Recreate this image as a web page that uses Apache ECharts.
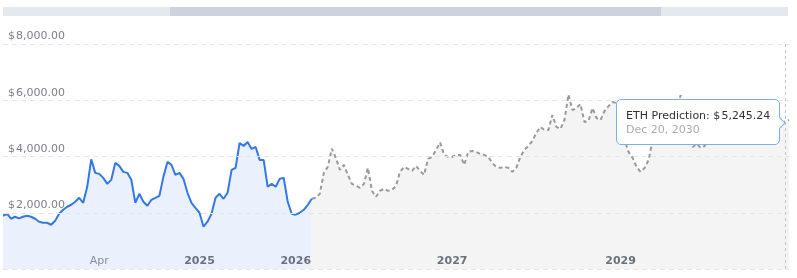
<!DOCTYPE html>
<html><head><meta charset="utf-8">
<script src="https://cdn.jsdelivr.net/npm/echarts@6/dist/echarts.min.js"></script>
<style>html,body{margin:0;padding:0;background:#fff}#c{width:797px;height:278px}</style>
</head><body><div id="c"></div>
<script>
// Category dates: anchor date -> category index (dates between anchors are evenly spread)
const dateAnchors = [
  ['2023-09-24', 0], ['2024-04-01', 24], ['2025-01-01', 49], ['2026-01-01', 73],
  ['2027-01-01', 112], ['2029-01-01', 154], ['2030-12-20', 195], ['2030-12-31', 196]
];
const tickDates = ['2024-04-01', '2025-01-01', '2026-01-01', '2027-01-01', '2029-01-01'];
const tickLabels = ['Apr', '2025', '2026', '2027', '2029'];
const yTicks = [0, 2000, 4000, 6000, 8000];

// ETH price history (USD)
const historyValues = [
  1894,1965,1787,1858,1800,1858,1890,1858,1787,1681,
  1645,1645,1574,1716,1965,2106,2213,2284,2390,2532,
  2355,2922,3900,3418,3383,3241,3028,3170,3773,3667,
  3454,3418,3170,2355,2674,2390,2248,2461,2532,2603,
  3277,3808,3702,3347,3418,3206,2709,2355,2177,2000,
  1504,1681,1965,2532,2674,2496,2709,3525,3596,4482,
  4376,4518,4270,4340,3879,3879,2922,3028,2922,3206,
  3241,2390,1965,1930,2000,2106,2284,2496
];
// ETH prediction (USD), starts at the last history point
const predictionValues = [
  2496,2532,2674,3418,3631,4280,3950,3525,3702,3347,
  3028,2957,2887,3028,3596,2780,2567,2780,2851,2780,
  2816,2957,3454,3631,3560,3490,3667,3490,3347,3915,
  3986,4234,4500,4057,3986,3986,4057,4057,3702,4163,
  4198,4163,4092,4057,3986,3773,3631,3596,3631,3596,
  3454,3596,3986,4234,4376,4553,4837,5050,4943,4943,
  5475,5050,4979,5298,6200,5652,5723,5865,5227,5262,
  5723,5369,5298,5617,5794,5936,5900,5865,4589,4163,
  3950,3631,3454,3596,3879,4589,5014,5440,5298,5511,
  5652,5723,6184,5369,4518,4340,4447,4305,4376,4660,
  4872,5014,5121,5298,5581,5652,5511,5369,5227,5085,
  5333,5440,5262,5121,5227,5369,5227,5121,5245.24,5300
];

const DAY = 86400000;
function iso(t){ const d = new Date(Math.round(t / DAY) * DAY); return d.toISOString().slice(0, 10); }
const categories = [];
for (let a = 0; a < dateAnchors.length - 1; a++) {
  const [d0, i0] = dateAnchors[a], [d1, i1] = dateAnchors[a + 1];
  const t0 = Date.parse(d0), t1 = Date.parse(d1);
  for (let i = i0; i < i1; i++) categories.push(iso(t0 + (t1 - t0) * (i - i0) / (i1 - i0)));
}
categories.push(dateAnchors[dateAnchors.length - 1][0]);

const predStart = historyValues.length - 1;
const histData = categories.map((c, i) => i < historyValues.length ? historyValues[i] : '-');
const predData = categories.map((c, i) => (i >= predStart && i - predStart < predictionValues.length) ? predictionValues[i - predStart] : '-');

const MONTHS = ['Jan','Feb','Mar','Apr','May','Jun','Jul','Aug','Sep','Oct','Nov','Dec'];
function fmtDate(s){ const [y, m, d] = s.split('-').map(Number); return MONTHS[m - 1] + ' ' + d + ', ' + y; }
function fmtUsd(v){ return '$\u200A' + Number(v).toLocaleString('en-US', {minimumFractionDigits: 2, maximumFractionDigits: 2}); }

const FONT = 'DejaVu Sans';
const BORDER = '#7eaeef';
const chart = echarts.init(document.getElementById('c'), null, {renderer: 'canvas'});
chart.setOption({
  animation: false,
  backgroundColor: '#ffffff',
  textStyle: {fontFamily: FONT},
  grid: {left: 3, right: 8, top: 44, bottom: 9, containLabel: false},
  graphic: [
    {type: 'rect', left: 3, top: 7, shape: {width: 785, height: 9}, style: {fill: '#e4e8ef'}, silent: true},
    {type: 'rect', left: 170, top: 7, shape: {width: 491, height: 9}, style: {fill: '#ccd3df'}, silent: true}
  ],
  xAxis: {
    type: 'category',
    data: categories,
    boundaryGap: false,
    z: 10,
    axisLine: {show: false},
    axisTick: {show: false},
    splitLine: {show: false},
    axisLabel: {
      inside: true,
      margin: 2,
      interval: (idx, val) => tickDates.includes(val),
      formatter: val => {
        const k = tickDates.indexOf(val);
        if (k < 0) return '';
        const t = tickLabels[k];
        return /^\d{4}$/.test(t) ? '{y|' + t + '}' : '{m|' + t + '}';
      },
      rich: {
        y: {fontFamily: FONT, fontSize: 11, fontWeight: 'bold', color: '#6b717c'},
        m: {fontFamily: FONT, fontSize: 11, color: '#8a8f98'}
      }
    }
  },
  yAxis: {
    type: 'value',
    min: yTicks[0],
    max: yTicks[yTicks.length - 1],
    interval: yTicks[1] - yTicks[0],
    z: 10,
    axisLine: {show: false},
    axisTick: {show: false},
    axisLabel: {
      inside: true,
      margin: 5,
      showMinLabel: false,
      verticalAlign: 'bottom',
      padding: [0, 0, 2, 0],
      fontFamily: FONT,
      fontSize: 11,
      color: '#7b7f87',
      formatter: v => fmtUsd(v)
    },
    splitLine: {lineStyle: {color: '#e6e6e6', width: 1, type: [5, 4]}}
  },
  tooltip: {
    trigger: 'axis',
    triggerOn: 'none',
    alwaysShowContent: true,
    transitionDuration: 0,
    backgroundColor: '#ffffff',
    borderColor: BORDER,
    borderWidth: 1,
    borderRadius: 5,
    padding: [9, 9, 8, 9],
    extraCssText: 'box-shadow:none;',
    textStyle: {fontFamily: FONT, fontSize: 11, color: '#333'},
    axisPointer: {type: 'line', lineStyle: {color: '#c4c4c4', width: 1, type: [3, 3]}},
    position: (point, params, dom, rect, size) => [point[0] - size.contentSize[0] - 5, point[1] - size.contentSize[1] / 2 + 1],
    formatter: params => {
      const p = params.find(q => q.seriesName === 'ETH Prediction' && q.value !== '-' && q.value != null)
        || params.find(q => q.value !== '-' && q.value != null);
      if (!p) return '';
      return '<div style="position:relative;font-family:' + FONT + ';font-size:11px;">' +
        '<div style="color:#333;line-height:13px;height:13px;">' + p.seriesName + ': ' + fmtUsd(p.value) + '</div>' +
        '<div style="color:#a5abb5;line-height:13px;height:13px;margin-top:1px;">' + fmtDate(p.axisValue) + '</div>' +
        '<div style="position:absolute;right:-14px;top:50%;width:7px;height:7px;margin-top:-4px;background:#fff;' +
        'border-top:1px solid ' + BORDER + ';border-right:1px solid ' + BORDER + ';transform:rotate(45deg);"></div>' +
        '</div>';
    }
  },
  series: [
    {
      name: 'ETH Price',
      type: 'line',
      data: histData,
      symbol: 'none',
      showSymbol: false,
      emphasis: {disabled: true},
      lineStyle: {color: '#3478e6', width: 2},
      itemStyle: {color: '#3478e6'},
      areaStyle: {color: '#eaf1fc', opacity: 1},
      z: 3
    },
    {
      name: 'ETH Prediction',
      type: 'line',
      data: predData,
      symbol: 'none',
      showSymbol: false,
      emphasis: {disabled: true},
      lineStyle: {color: '#9a9a9a', width: 2, type: [4, 3]},
      itemStyle: {color: '#9a9a9a'},
      areaStyle: {color: '#f4f4f4', opacity: 1},
      z: 2
    }
  ]
});
chart.dispatchAction({type: 'showTip', seriesIndex: 1, dataIndex: 195});
</script>
</body></html>
